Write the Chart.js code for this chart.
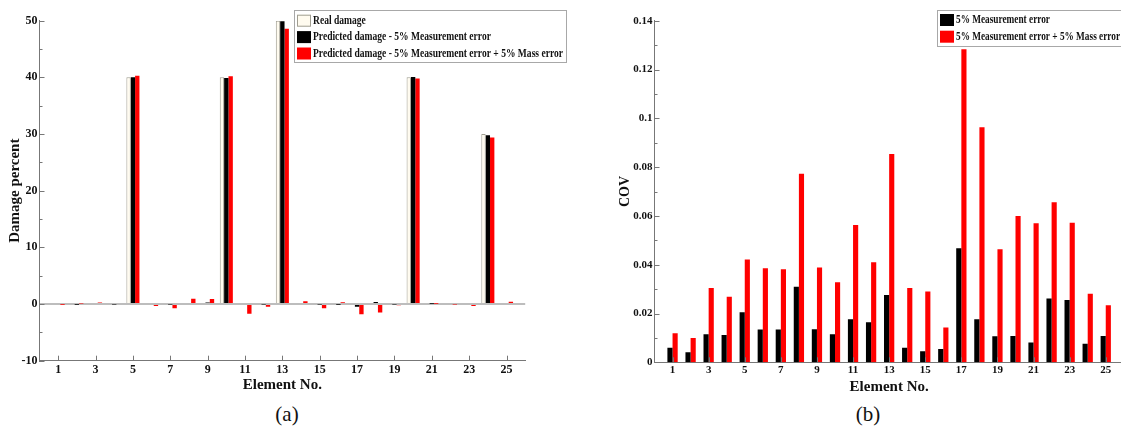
<!DOCTYPE html>
<html>
<head>
<meta charset="utf-8">
<script src="https://cdn.jsdelivr.net/npm/chart.js@4"></script>
<style>
  html, body { margin: 0; padding: 0; background: #fff; overflow: hidden; }
  #wrap { position: relative; width: 1121px; height: 432px; overflow: hidden; background: #fff; }
  canvas { position: absolute; top: 0; }
  .sub { position: absolute; top: 402px; transform: translateX(-50%); font: 21px "Liberation Serif", serif; color: #111; }
</style>
</head>
<body>
<div id="wrap">
  <canvas id="graficoDano" width="600" height="400" style="left:0"></canvas>
  <canvas id="graficoCov" width="540" height="400" style="left:600px"></canvas>
  <div class="sub" style="left:287px">(a)</div>
  <div class="sub" style="left:868px">(b)</div>
</div>
<script>
const elements = [1, 2, 3, 4, 5, 6, 7, 8, 9, 10, 11, 12, 13, 14, 15, 16, 17, 18, 19, 20, 21, 22, 23, 24, 25];
const xTicks = [1, 3, 5, 7, 9, 11, 13, 15, 17, 19, 21, 23, 25];

const realDamage = [0, 0, 0, 0, 40, 0, 0, 0, 0, 40, 0, 0, 50, 0, 0, 0, 0, 0, 0, 40, 0, 0, 0, 30, 0];
const predMeas = [0, -0.05, 0, -0.1, 40, 0, -0.1, 0, 0.25, 39.9, 0, -0.1, 49.9, 0, -0.1, -0.05, -0.5, 0.35, -0.1, 40.05, 0.05, -0.15, 0, 29.8, 0.2];
const predMeasMass = [-0.05, 0.1, 0.25, -0.15, 40.3, -0.35, -0.75, 0.95, 0.9, 40.2, -1.7, -0.5, 48.6, 0.5, -0.75, 0.3, -1.8, -1.5, -0.2, 39.8, 0.05, -0.1, -0.35, 29.4, 0.4];

const covMeas = [0.0060, 0.0041, 0.0115, 0.0112, 0.0205, 0.0134, 0.0134, 0.0310, 0.0135, 0.0115, 0.0176, 0.0164, 0.0276, 0.0060, 0.0045, 0.0055, 0.0467, 0.0176, 0.0107, 0.0108, 0.0081, 0.0261, 0.0255, 0.0076, 0.0108];
const covMeasMass = [0.0119, 0.0100, 0.0305, 0.0269, 0.0421, 0.0385, 0.0381, 0.0773, 0.0389, 0.0328, 0.0563, 0.0410, 0.0854, 0.0305, 0.0290, 0.0143, 0.1283, 0.0963, 0.0463, 0.0600, 0.0570, 0.0656, 0.0572, 0.0281, 0.0234];

const pontos = vals => vals.map((v, i) => ({ x: elements[i], y: v }));
const fonte = (size, weight) => ({ family: '"Liberation Serif", "Times New Roman", serif', size: size, weight: weight || 'bold' });

// legend drawn as a boxed list like the Matlab one
const boxLegend = {
  id: 'boxLegend',
  afterDraw(chart, args, o) {
    const ctx = chart.ctx;
    ctx.save();
    ctx.fillStyle = '#fff';
    ctx.fillRect(o.x, o.y, o.w, o.h);
    ctx.strokeStyle = '#a8a8a8';
    ctx.lineWidth = 1;
    ctx.strokeRect(o.x + 0.5, o.y + 0.5, o.w, o.h);
    ctx.font = 'bold 13px "Liberation Serif", serif';
    ctx.textBaseline = 'middle';
    const longest = Math.max(...chart.data.datasets.map(d => ctx.measureText(d.label).width));
    const squeeze = o.textW / longest;
    chart.data.datasets.forEach((ds, i) => {
      const cy = o.y + o.first + i * o.row;
      ctx.fillStyle = ds.backgroundColor;
      ctx.fillRect(o.x + 3, cy - 6, 14, 12);
      if (ds.borderWidth) {
        ctx.strokeStyle = ds.borderColor;
        ctx.strokeRect(o.x + 3.5, cy - 5.5, 13, 11);
      }
      ctx.save();
      ctx.translate(o.x + 19, cy);
      ctx.scale(squeeze, 1);
      ctx.fillStyle = '#111';
      ctx.fillText(ds.label, 0, 0);
      ctx.restore();
    });
    ctx.restore();
  }
};

// inward tick marks, minor ones halfway between the y labels
const inTicks = {
  id: 'inTicks',
  afterDraw(chart) {
    const { ctx, chartArea: a, scales: { x, y } } = chart;
    ctx.save();
    ctx.strokeStyle = '#777';
    ctx.lineWidth = 1;
    const seg = (x1, y1, x2, y2) => { ctx.beginPath(); ctx.moveTo(x1, y1); ctx.lineTo(x2, y2); ctx.stroke(); };
    x.ticks.forEach(t => {
      const px = Math.round(x.getPixelForValue(t.value)) + 0.5;
      seg(px, a.bottom, px, a.bottom - 5);
    });
    y.ticks.forEach((t, i) => {
      const py = Math.round(y.getPixelForValue(t.value)) + 0.5;
      seg(a.left, py, a.left + 5, py);
      if (i < y.ticks.length - 1) {
        const pm = Math.round(y.getPixelForValue((t.value + y.ticks[i + 1].value) / 2)) + 0.5;
        seg(a.left, pm, a.left + 3, pm);
      }
    });
    ctx.restore();
  }
};

const eixoX = (fontSize, altura, pad) => ({
  type: 'linear',
  min: 0,
  max: 26,
  offset: false,
  afterBuildTicks: s => { s.ticks = xTicks.map(v => ({ value: v })); },
  afterFit: s => { s.height = altura; },
  grid: { display: false, drawTicks: false },
  border: { display: true, color: '#777', width: 1 },
  ticks: { font: fonte(fontSize), color: '#111', padding: pad, autoSkip: false, maxRotation: 0 },
  title: { display: true, text: 'Element No.', font: fonte(15), color: '#111', padding: { top: 0, bottom: 0 } }
});

new Chart(document.getElementById('graficoDano'), {
  type: 'bar',
  data: {
    datasets: [{
      label: 'Real damage',
      data: pontos(realDamage),
      backgroundColor: '#fffbef',
      borderColor: '#a09e92',
      borderWidth: 1
    }, {
      label: 'Predicted damage - 5% Measurement error',
      data: pontos(predMeas),
      backgroundColor: '#000000',
      borderWidth: 0
    }, {
      label: 'Predicted damage - 5% Measurement error + 5% Mass error',
      data: pontos(predMeasMass),
      backgroundColor: '#ff0000',
      borderWidth: 0
    }]
  },
  options: {
    responsive: false,
    animation: false,
    layout: { padding: { left: 0, right: 74.8, top: 20.7, bottom: 6 } },
    datasets: { bar: { categoryPercentage: 0.7, barPercentage: 1 } },
    plugins: {
      legend: { display: false },
      tooltip: { enabled: false },
      boxLegend: { x: 294, y: 10, w: 272, h: 52, first: 10.7, row: 16.4, textW: 250 }
    },
    scales: {
      x: eixoX(12, 33.3, 2),
      y: {
        min: -10,
        max: 50,
        afterFit: s => { s.width = 39.5; },
        grid: { drawTicks: false, color: c => c.tick.value === 0 ? '#bdbdbd' : 'rgba(0,0,0,0)', lineWidth: 2 },
        border: { display: true, color: '#777', width: 1 },
        ticks: { stepSize: 10, font: fonte(12), color: '#111', padding: 2 },
        title: { display: true, text: 'Damage percent', font: fonte(15), color: '#111', padding: { top: 6, bottom: 0 } }
      }
    }
  },
  plugins: [inTicks, boxLegend]
});

new Chart(document.getElementById('graficoCov'), {
  type: 'bar',
  data: {
    datasets: [{
      label: '5% Measurement error',
      data: pontos(covMeas),
      backgroundColor: '#000000',
      borderWidth: 0
    }, {
      label: '5% Measurement error + 5% Mass error',
      data: pontos(covMeasMass),
      backgroundColor: '#ff0000',
      borderWidth: 0
    }]
  },
  options: {
    responsive: false,
    animation: false,
    layout: { padding: { left: 0, right: 16.2, top: 20.7, bottom: 4 } },
    datasets: { bar: { categoryPercentage: 0.57, barPercentage: 1 } },
    plugins: {
      legend: { display: false },
      tooltip: { enabled: false },
      boxLegend: { x: 337, y: 10, w: 220, h: 36, first: 10, row: 16.7, textW: 164 }
    },
    scales: {
      x: eixoX(11, 33.7, 1.5),
      y: {
        min: 0,
        max: 0.14,
        afterFit: s => { s.width = 54.5; },
        grid: { display: false, drawTicks: false },
        border: { display: true, color: '#777', width: 1 },
        ticks: { stepSize: 0.02, font: fonte(11), color: '#111', padding: 2, callback: v => String(+v.toFixed(2)) },
        title: { display: true, text: 'COV', font: fonte(14), color: '#111', padding: { top: 17, bottom: 0 } }
      }
    }
  },
  plugins: [inTicks, boxLegend]
});
</script>
</body>
</html>
